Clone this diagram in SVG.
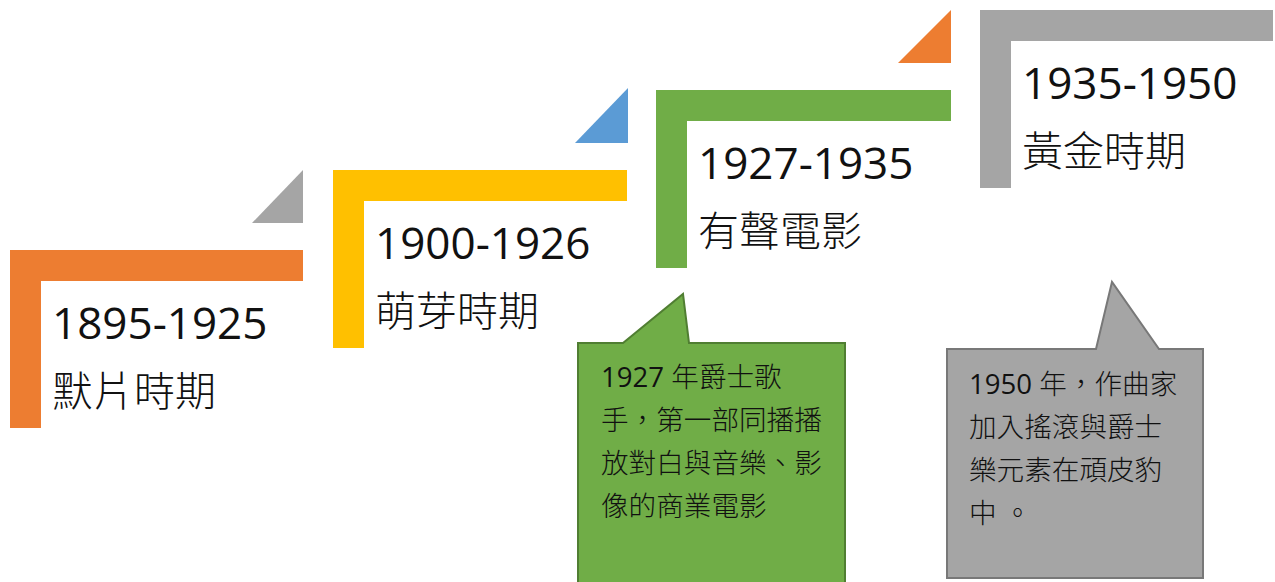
<svg xmlns="http://www.w3.org/2000/svg" width="1275" height="582" viewBox="0 0 1275 582">
<style>
.yr{font-family:"Open Sans","Noto Sans CJK TC",sans-serif;font-size:44px;fill:#111}
.nm{font-family:"Noto Sans CJK TC",sans-serif;font-size:41px;font-weight:300;fill:#111}
.cl{font-family:"Open Sans","Noto Sans CJK TC",sans-serif;font-size:27.6px;font-weight:300;fill:#111}
.cl tspan.d{font-weight:400}
</style>
<rect width="1275" height="582" fill="#fff"/>
<g id="connectors">
<polygon points="252,223 303,223 303,170" fill="#A5A5A5"/>
<polygon points="575,143 628,143 628,88" fill="#5B9BD5"/>
<polygon points="898,63 951,63 951,10" fill="#ED7D31"/>
</g>
<g id="node-1895">
<path d="M10,250 H303 V281 H41 V428 H10 Z" fill="#ED7D31"/>
<text class="yr" x="52" y="339">1895-1925</text>
<text class="nm" x="52" y="406">默片時期</text>
</g>
<g id="node-1900">
<path d="M333,170 H627 V201 H364 V348 H333 Z" fill="#FFC000"/>
<text class="yr" x="375" y="259">1900-1926</text>
<text class="nm" x="375" y="326">萌芽時期</text>
</g>
<g id="node-1927">
<path d="M656,90 H951 V121 H687 V268 H656 Z" fill="#70AD47"/>
<text class="yr" x="698" y="179">1927-1935</text>
<text class="nm" x="698" y="246">有聲電影</text>
</g>
<g id="node-1935">
<path d="M980,10 H1273 V41 H1011 V188 H980 Z" fill="#A5A5A5"/>
<text class="yr" x="1022" y="99">1935-1950</text>
<text class="nm" x="1022" y="166">黃金時期</text>
</g>
<g id="callout-1927">
<path d="M578,343 H623 L683,294 L689,343 H845 V590 H578 Z" fill="#70AD47" stroke="#507E32" stroke-width="2"/>
<text class="cl" x="601" y="387"><tspan class="d">1927</tspan> 年爵士歌</text>
<text class="cl" x="601" y="430">手，第一部同播播</text>
<text class="cl" x="601" y="473">放對白與音樂、影</text>
<text class="cl" x="601" y="516">像的商業電影</text>
</g>
<g id="callout-1950">
<path d="M947,349 H1096 L1112,282 L1159,349 H1203 V578 H947 Z" fill="#A5A5A5" stroke="#787878" stroke-width="2"/>
<text class="cl" x="969" y="394"><tspan class="d">1950</tspan> 年，作曲家</text>
<text class="cl" x="969" y="437">加入搖滾與爵士</text>
<text class="cl" x="969" y="480">樂元素在頑皮豹</text>
<text class="cl" x="969" y="523">中 。</text>
</g>
</svg>
